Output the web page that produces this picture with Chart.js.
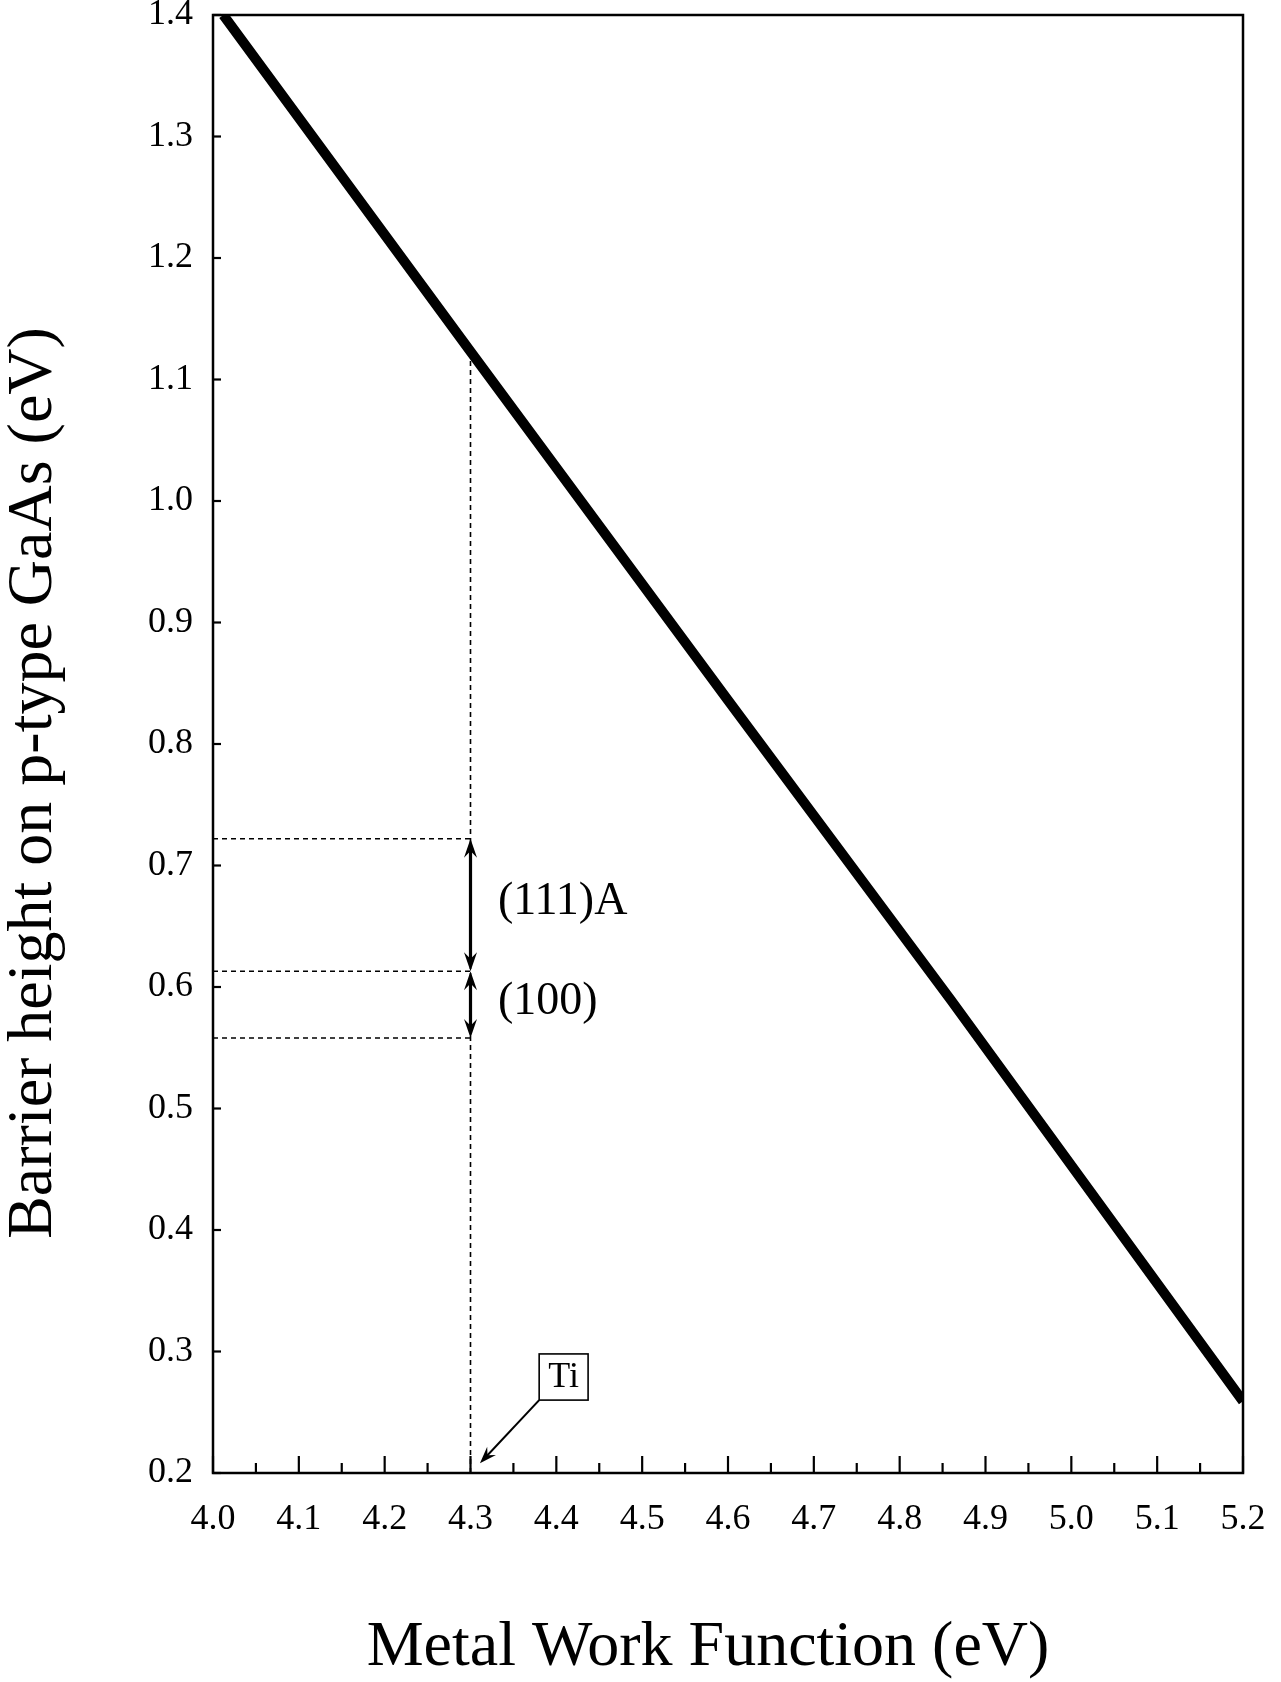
<!DOCTYPE html>
<html>
<head>
<meta charset="utf-8">
<script src="https://cdn.jsdelivr.net/npm/chart.js@4.4.0/dist/chart.umd.min.js"></script>
<style>
    html, body { margin: 0; padding: 0; background: #ffffff; }
    #wrap { width: 1281px; height: 1682px; position: relative; }
</style>
</head>
<body>
<div id="wrap"><canvas id="barrierChart"></canvas></div>
<script>
// values
const workFunction = [4.012, 4.3, 4.6, 4.86, 5.2];
const barrierHeight = [1.40, 1.123, 0.836, 0.589, 0.259];
const xTicks = [4.0, 4.1, 4.2, 4.3, 4.4, 4.5, 4.6, 4.7, 4.8, 4.9, 5.0, 5.1, 5.2];
const yTicks = [0.2, 0.3, 0.4, 0.5, 0.6, 0.7, 0.8, 0.9, 1.0, 1.1, 1.2, 1.3, 1.4];
const tiWorkFunction = 4.3;
const tiGuideTop = 1.12;
const rangeLevels = [0.722, 0.613, 0.558];
const rangeLabels = ['(111)A', '(100)'];
const metalLabel = 'Ti';
const xTitle = 'Metal Work Function (eV)';
const yTitle = 'Barrier height on p-type GaAs (eV)';

const SERIF = "'Liberation Serif', 'DejaVu Serif', serif";

function guideLine(points) {
    return {
        data: points, showLine: true, borderColor: '#000', borderWidth: 1.6,
        borderDash: [5, 4], pointRadius: 0, clip: 0
    };
}

function arrowHead(ctx, x, y, ux, uy, len, half) {
    // tip at (x,y), pointing along (ux,uy)
    const bx = x - ux * len, by = y - uy * len;
    const nx = -uy, ny = ux;
    ctx.beginPath();
    ctx.moveTo(x, y);
    ctx.lineTo(bx + nx * half, by + ny * half);
    ctx.lineTo(x - ux * len * 0.65, y - uy * len * 0.65);
    ctx.lineTo(bx - nx * half, by - ny * half);
    ctx.closePath();
    ctx.fill();
}

const figureDecor = {
    id: 'figureDecor',
    afterDatasetsDraw(chart) {
        const ctx = chart.ctx;
        const a = chart.chartArea;
        const xs = chart.scales.x, ys = chart.scales.y;
        ctx.save();
        ctx.strokeStyle = '#000';
        ctx.fillStyle = '#000';
        ctx.setLineDash([]);

        // frame
        ctx.lineWidth = 2.5;
        ctx.strokeRect(a.left, a.top, a.right - a.left, a.bottom - a.top);

        // inward ticks
        ctx.lineWidth = 2.2;
        xTicks.forEach((v, i) => {
            const px = xs.getPixelForValue(v);
            ctx.beginPath(); ctx.moveTo(px, a.bottom); ctx.lineTo(px, a.bottom - 17); ctx.stroke();
            if (i < xTicks.length - 1) {
                const mx = xs.getPixelForValue((v + xTicks[i + 1]) / 2);
                ctx.beginPath(); ctx.moveTo(mx, a.bottom); ctx.lineTo(mx, a.bottom - 10); ctx.stroke();
            }
        });
        yTicks.forEach(v => {
            const py = ys.getPixelForValue(v);
            ctx.beginPath(); ctx.moveTo(a.left, py); ctx.lineTo(a.left + 8, py); ctx.stroke();
        });

        // double arrows between the levels
        const ax = xs.getPixelForValue(tiWorkFunction);
        ctx.lineWidth = 3.2;
        for (let i = 0; i < rangeLevels.length - 1; i++) {
            const y1 = ys.getPixelForValue(rangeLevels[i]);
            const y2 = ys.getPixelForValue(rangeLevels[i + 1]);
            ctx.beginPath(); ctx.moveTo(ax, y1 + 8); ctx.lineTo(ax, y2 - 8); ctx.stroke();
            arrowHead(ctx, ax, y1, 0, -1, 19, 6.5);
            arrowHead(ctx, ax, y2, 0, 1, 19, 6.5);

            ctx.font = '46px ' + SERIF;
            ctx.textAlign = 'left';
            ctx.textBaseline = 'middle';
            const ly = ys.getPixelForValue((rangeLevels[i] + rangeLevels[i + 1]) / 2) - 3;
            ctx.fillText(rangeLabels[i], xs.getPixelForValue(4.332), ly);
        }

        // Ti callout
        const bl = xs.getPixelForValue(4.380), br = xs.getPixelForValue(4.437);
        const bt = ys.getPixelForValue(0.298), bb = ys.getPixelForValue(0.260);
        ctx.lineWidth = 1.6;
        ctx.strokeRect(bl, bt, br - bl, bb - bt);
        ctx.font = '36px ' + SERIF;
        ctx.textAlign = 'center';
        ctx.textBaseline = 'middle';
        ctx.fillText(metalLabel, (bl + br) / 2, (bt + bb) / 2 + 1);
        const hx = xs.getPixelForValue(4.311), hy = ys.getPixelForValue(0.208);
        const dx = hx - bl, dy = hy - bb, dl = Math.hypot(dx, dy);
        ctx.lineWidth = 2;
        ctx.beginPath(); ctx.moveTo(bl, bb); ctx.lineTo(hx - dx / dl * 10, hy - dy / dl * 10); ctx.stroke();
        arrowHead(ctx, hx, hy, dx / dl, dy / dl, 17, 6);

        // axis titles
        ctx.font = '64px ' + SERIF;
        ctx.textAlign = 'center';
        ctx.textBaseline = 'middle';
        ctx.fillText(xTitle, 708, 1648);
        ctx.translate(34, 783);
        ctx.rotate(-Math.PI / 2);
        ctx.fillText(yTitle, 0, 0);
        ctx.restore();
    }
};

const ctx = document.getElementById('barrierChart').getContext('2d');
new Chart(ctx, {
    type: 'scatter',
    data: {
        datasets: [
            {
                data: workFunction.map((x, i) => ({ x: x, y: barrierHeight[i] })),
                showLine: true, borderColor: '#000', borderWidth: 10,
                borderCapStyle: 'butt', pointRadius: 0, clip: 0
            },
            guideLine([{ x: tiWorkFunction, y: 0.2 }, { x: tiWorkFunction, y: tiGuideTop }]),
            ...rangeLevels.map(l => guideLine([{ x: 4.0, y: l }, { x: tiWorkFunction, y: l }]))
        ]
    },
    options: {
        responsive: true, maintainAspectRatio: false, animation: false,
        layout: { padding: { left: 0, top: 15, right: 38, bottom: 0 } },
        plugins: { legend: { display: false }, tooltip: { enabled: false } },
        scales: {
            x: {
                type: 'linear', min: 4.0, max: 5.2,
                grid: { display: false, drawTicks: false },
                border: { display: false },
                afterBuildTicks: s => { s.ticks = xTicks.map(v => ({ value: v })); },
                afterFit: s => { s.height = 209; s.paddingLeft = 0; s.paddingRight = 0; },
                ticks: {
                    color: '#000', padding: 25, maxRotation: 0, autoSkip: false,
                    font: { family: SERIF, size: 36 },
                    callback: v => Number(v).toFixed(1)
                }
            },
            y: {
                type: 'linear', min: 0.2, max: 1.4,
                grid: { display: false, drawTicks: false },
                border: { display: false },
                afterBuildTicks: s => { s.ticks = yTicks.map(v => ({ value: v })); },
                afterFit: s => { s.width = 213; s.paddingTop = 0; s.paddingBottom = 0; },
                ticks: {
                    color: '#000', padding: 20, autoSkip: false,
                    font: { family: SERIF, size: 36 },
                    callback: v => Number(v).toFixed(1)
                }
            }
        }
    },
    plugins: [figureDecor]
});
</script>
</body>
</html>
